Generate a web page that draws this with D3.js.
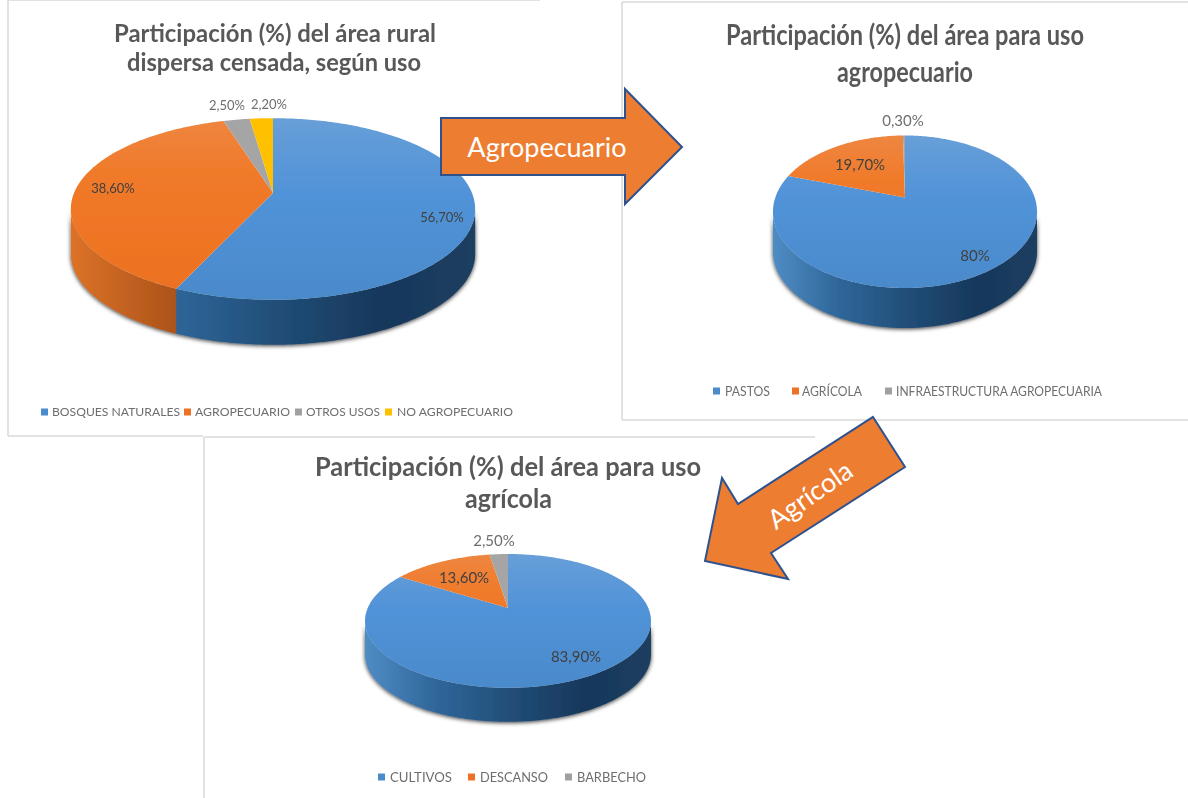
<!DOCTYPE html>
<html>
<head>
<meta charset="utf-8">
<script src="https://cdn.jsdelivr.net/npm/d3@7"></script>
<style>
  html, body { margin: 0; padding: 0; background: #fff; }
  svg { display: block; font-family: Lato, "Open Sans", sans-serif; }
</style>
</head>
<body>
<div id="container"></div>
<script>
// data
const ruralNames = ['BOSQUES NATURALES', 'AGROPECUARIO', 'OTROS USOS', 'NO AGROPECUARIO'];
const ruralValues = [56.7, 38.6, 2.5, 2.2];
const ruralLabels = ['56,70%', '38,60%', '2,50%', '2,20%'];
const ruralTitle = ['Participación (%) del área rural', 'dispersa censada, según uso'];

const agroNames = ['PASTOS', 'AGRÍCOLA', 'INFRAESTRUCTURA AGROPECUARIA'];
const agroValues = [80, 19.7, 0.3];
const agroLabels = ['80%', '19,70%', '0,30%'];
const agroTitle = ['Participación (%) del área para uso', 'agropecuario'];

const cropNames = ['CULTIVOS', 'DESCANSO', 'BARBECHO'];
const cropValues = [83.9, 13.6, 2.5];
const cropLabels = ['83,90%', '13,60%', '2,50%'];
const cropTitle = ['Participación (%) del área para uso', 'agrícola'];

const topColors = ['blue', 'orange', '#a5a5a5', '#ffc000'];
const legendColors = ['#4a8bcb', '#ec7328', '#a0a0a0', '#ffc000'];

// layout of each chart: x,y = pie apex, R,S,k = perspective of the disc
const charts = [
  {
    names: ruralNames, values: ruralValues, labels: ruralLabels, title: ruralTitle,
    x: 273, y: 193, R: 199, S: 88, k: 0.176, depth: 45,
    titleSize: 24,
    titleRows: [{ x0: 114, x1: 436, y: 42 }, { x0: 127, x1: 421, y: 71 }],
    labelSize: 13,
    labelPos: [[169, 24], [-160, -5], [-46, -88], [-4, -89]],
    legendY: 412, legendSize: 12,
    legend: [[41, 52, 180], [184, 195, 290], [295, 306, 380], [385, 397, 513]],
  },
  {
    names: agroNames, values: agroValues, labels: agroLabels, title: agroTitle,
    x: 905, y: 197.5, R: 129.7, S: 73.6, k: 0.187, depth: 40,
    titleSize: 29,
    titleRows: [{ x0: 726, x1: 1084, y: 45 }, { x0: 837, x1: 973, y: 82 }],
    labelSize: 15,
    labelPos: [[70, 58], [-45, -33], [-2, -77]],
    legendY: 391, legendSize: 14,
    legend: [[713, 725, 770], [792, 802, 862], [885, 896, 1102]],
  },
  {
    names: cropNames, values: cropValues, labels: cropLabels, title: cropTitle,
    x: 508, y: 608, R: 140.3, S: 64.4, k: 0.193, depth: 34,
    titleSize: 26,
    titleRows: [{ x0: 315, x1: 701, y: 476 }, { x0: 465, x1: 552, y: 508 }],
    labelSize: 15,
    labelPos: [[68, 49], [-44, -30], [-14, -67]],
    legendY: 777, legendSize: 14,
    legend: [[378, 390, 452], [468, 480, 548], [565, 577, 646]],
  },
];

// grey edges of the pasted chart images
const panelEdges = [
  [8, 0, 540, 0], [8, 0, 8, 436], [8, 436, 203, 436],
  [622, 2, 1188, 2], [622, 2, 622, 420], [622, 420, 1188, 420],
  [204, 437, 815, 437], [204, 437, 204, 798],
];

const arrows = [
  {
    points: [[441, 118], [625, 118], [625, 89], [682, 147], [625, 204], [625, 175], [441, 175]],
    text: 'Agropecuario', tx: 547, ty: 148, angle: 0, size: 27,
  },
  {
    points: [[873, 417], [905, 467], [771, 553], [788, 579], [705, 561], [722, 478], [738, 504]],
    text: 'Agrícola', tx: 810, ty: 495, angle: -35, size: 27,
  },
];

const svg = d3.select('#container').append('svg').attr('width', 1188).attr('height', 798);
const defs = svg.append('defs');

defs.append('filter').attr('id', 'wallShadow')
  .attr('x', '-10%').attr('y', '-10%').attr('width', '120%').attr('height', '130%')
  .append('feDropShadow')
  .attr('dx', 0).attr('dy', 1).attr('stdDeviation', 2)
  .attr('flood-color', '#000').attr('flood-opacity', 0.8);

// the reference is a soft, rescaled screenshot
defs.append('filter').attr('id', 'soft')
  .attr('filterUnits', 'userSpaceOnUse')
  .attr('x', 0).attr('y', 0).attr('width', 1188).attr('height', 798)
  .append('feGaussianBlur').attr('stdDeviation', 0.55);

function addGradient(id, horizontal, box, stops) {
  const g = defs.append('linearGradient').attr('id', id).attr('gradientUnits', 'userSpaceOnUse');
  g.attr('x1', box[0]).attr('y1', box[1]);
  g.attr('x2', horizontal ? box[2] : box[0]).attr('y2', horizontal ? box[1] : box[3]);
  stops.forEach((s) => g.append('stop').attr('offset', s[0]).attr('stop-color', s[1]));
}

svg.append('g').selectAll('line').data(panelEdges).enter().append('line')
  .attr('x1', (d) => d[0]).attr('y1', (d) => d[1])
  .attr('x2', (d) => d[2]).attr('y2', (d) => d[3])
  .attr('stroke', '#d9d9d9').attr('stroke-width', 1.5);

function fitText(sel, x0, x1) {
  sel.attr('x', x0).attr('textLength', x1 - x0).attr('lengthAdjust', 'spacingAndGlyphs');
}

const pie = d3.pie().sort(null).startAngle(0).endAngle(2 * Math.PI);
const line = d3.line();

charts.forEach((c, ci) => {
  const project = (a) => {
    const u = Math.sin(a), v = Math.cos(a), w = 1 + c.k * v;
    return [c.x + (c.R * u) / w, c.y - (c.S * v) / w];
  };
  // rim points where the side wall starts and ends
  const wallStart = Math.acos(-c.k);
  const wallEnd = 2 * Math.PI - wallStart;
  const left = project(wallEnd)[0], right = project(wallStart)[0];
  const top = project(0)[1], bottom = project(Math.PI)[1];
  const samples = (a0, a1) => {
    const n = Math.max(2, Math.ceil((a1 - a0) * 60));
    return d3.range(n + 1).map((i) => project(a0 + ((a1 - a0) * i) / n));
  };

  addGradient('topBlue' + ci, false, [0, top, 0, bottom], [[0, '#689fd8'], [0.4, '#5193d8'], [1, '#4a8acb']]);
  addGradient('topOrange' + ci, false, [0, top, 0, bottom], [[0, '#ee8640'], [0.3, '#f07a2a'], [1, '#ec701f']]);
  addGradient('wallBlue' + ci, true, [left, 0, right, 0],
    [[0, '#4f8cc4'], [0.25, '#2f6699'], [0.55, '#1f4a73'], [0.78, '#17375a'], [1, '#1c3f60']]);
  addGradient('wallOrange' + ci, true, [left, 0, right, 0],
    [[0, '#dc7228'], [0.27, '#a9521a'], [1, '#a9521a']]);

  const slices = pie(c.values);
  const fillOf = (i, kind) => {
    if (i === 0) return 'url(#' + kind + 'Blue' + ci + ')';
    if (i === 1) return 'url(#' + kind + 'Orange' + ci + ')';
    return topColors[i];
  };

  const g = svg.append('g').attr('filter', 'url(#soft)');

  // side wall, only the part of each slice that faces the viewer
  g.append('g').attr('filter', 'url(#wallShadow)')
    .selectAll('path').data(slices).enter().append('path')
    .attr('d', (d) => {
      const a0 = Math.max(d.startAngle, wallStart);
      const a1 = Math.min(d.endAngle, wallEnd);
      if (a1 <= a0) return null;
      const rim = samples(a0, a1);
      const low = rim.map((p) => [p[0], p[1] + c.depth]).reverse();
      return line(rim.concat(low)) + 'Z';
    })
    .attr('fill', (d) => fillOf(d.index, 'wall'));

  // top face
  g.append('g').selectAll('path').data(slices).enter().append('path')
    .attr('d', (d) => line([[c.x, c.y]].concat(samples(d.startAngle, d.endAngle))) + 'Z')
    .attr('fill', (d) => fillOf(d.index, 'top'));

  g.append('g').selectAll('text').data(c.labels).enter().append('text')
    .attr('x', (d, i) => c.x + c.labelPos[i][0])
    .attr('y', (d, i) => c.y + c.labelPos[i][1])
    .attr('dy', '0.35em').attr('text-anchor', 'middle')
    .attr('font-size', c.labelSize)
    .attr('fill', (d, i) => (c.values[i] < 5 ? '#6e6e6e' : '#404040'))
    .text((d) => d);

  g.append('g').selectAll('text').data(c.title).enter().append('text')
    .attr('y', (d, i) => c.titleRows[i].y)
    .attr('font-size', c.titleSize).attr('font-weight', 700).attr('fill', '#595959')
    .text((d) => d)
    .each(function (d, i) {
      fitText(d3.select(this), c.titleRows[i].x0, c.titleRows[i].x1);
    });

  const legend = g.append('g').selectAll('g').data(c.names).enter().append('g');
  legend.append('rect')
    .attr('x', (d, i) => c.legend[i][0]).attr('y', c.legendY - 3.5)
    .attr('width', 7).attr('height', 7)
    .attr('fill', (d, i) => legendColors[i]);
  legend.append('text')
    .attr('y', c.legendY).attr('dy', '0.35em')
    .attr('font-size', c.legendSize).attr('fill', '#6e6e6e')
    .text((d) => d)
    .each(function (d, i) {
      fitText(d3.select(this), c.legend[i][1], c.legend[i][2]);
    });
});

const arrowGroup = svg.append('g').selectAll('g').data(arrows).enter().append('g');
arrowGroup.append('path')
  .attr('d', (d) => line(d.points) + 'Z')
  .attr('fill', '#ed7d31').attr('stroke', '#2f528f').attr('stroke-width', 2);
arrowGroup.append('text')
  .attr('transform', (d) => 'translate(' + d.tx + ',' + d.ty + ') rotate(' + d.angle + ')')
  .attr('dy', '0.35em').attr('text-anchor', 'middle')
  .attr('font-size', (d) => d.size).attr('fill', '#fff')
  .text((d) => d.text);
</script>
</body>
</html>
